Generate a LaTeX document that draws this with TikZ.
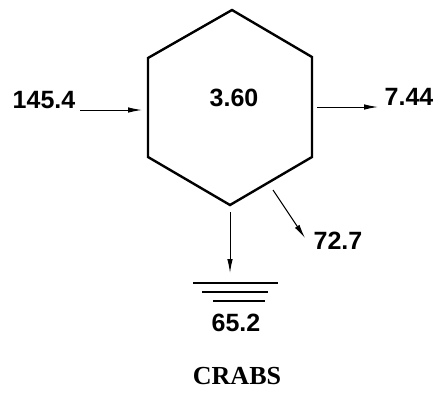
\documentclass[tikz,border=0pt]{standalone}
\usepackage{fontspec}
\setmainfont{Liberation Serif}
\newfontfamily\flowfont{Liberation Sans}
\usetikzlibrary{arrows.meta}

\tikzset{
  flow/.style={-{Latex[length=14pt,width=5.5pt]},line width=1pt},
  amount/.style={font=\flowfont\bfseries\fontsize{25}{25}\selectfont,inner sep=0pt},
  ground/.style={line width=1.6pt},
}

\begin{document}
\begin{tikzpicture}[x=1pt,y=-1pt]
  \useasboundingbox (0,0) rectangle (435,392);
  % compartment outline
  \coordinate (top) at (232,10);
  \coordinate (ur) at (312,57);
  \coordinate (lr) at (312,157);
  \coordinate (bot) at (230,205);
  \coordinate (ll) at (148,157);
  \coordinate (ul) at (148,58);
  \draw[line width=2.4pt] (top) -- (ur) -- (lr) -- (bot) -- (ll) -- (ul) -- cycle;

  % standing stock and flows
  \node[amount] (stock) at (234,98) {3.60};
  \node[amount] (intake) at (44,100) {145.4};
  \node[amount] (resp) at (409,97) {7.44};
  \node[amount] (pred) at (338,241) {72.7};
  \node[amount] (sink) at (236,323) {65.2};
  \node[font=\bfseries\fontsize{26}{26}\selectfont,inner sep=0pt] (title) at (237,376) {CRABS};

  \coordinate (in-a) at (80,110);
  \coordinate (in-b) at (142,110);
  \coordinate (resp-a) at (317,107);
  \coordinate (resp-b) at (378,107);
  \coordinate (pred-a) at (273,190);
  \coordinate (pred-b) at (305,238);
  \coordinate (sink-a) at (230,212);
  \coordinate (sink-b) at (230,273);
  \draw[flow] (in-a) -- (in-b);
  \draw[flow] (resp-a) -- (resp-b);
  \draw[flow] (pred-a) -- (pred-b);
  \draw[flow] (sink-a) -- (sink-b);

  % ground symbol
  \draw[ground] (193,283) -- (278,283);
  \draw[ground] (202,292) -- (268,292);
  \draw[ground] (213,301) -- (265,301);
\end{tikzpicture}
\end{document}
